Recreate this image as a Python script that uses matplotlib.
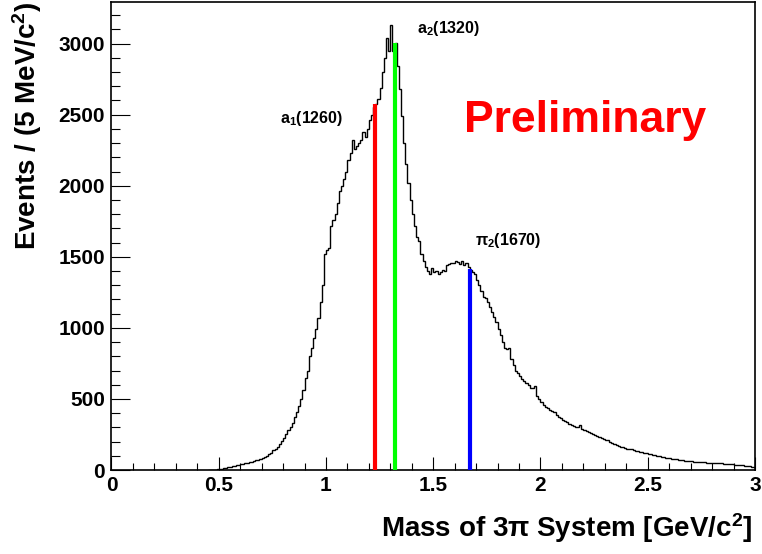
import numpy as np
import matplotlib
matplotlib.use("Agg")
import matplotlib.pyplot as plt
from matplotlib.ticker import MultipleLocator

plt.rcParams['font.family'] = ['Liberation Sans', 'DejaVu Sans']
plt.rcParams['font.weight'] = 'bold'
plt.rcParams['mathtext.fontset'] = 'custom'
plt.rcParams['mathtext.rm'] = 'Liberation Sans:bold'
plt.rcParams['mathtext.it'] = 'Liberation Sans:bold'
plt.rcParams['mathtext.bf'] = 'Liberation Sans:bold'

# histogram: 10 MeV bins starting at 0.45 GeV
bin_start = 0.45
bin_width = 0.01
counts = [
    0, 1, 2, 3, 5,
    7, 9, 12, 15, 18, 22, 26, 30, 34, 38,
    42, 45, 48, 51, 55, 58, 62, 67, 72, 78,
    85, 92, 100, 110, 122, 138, 150, 165, 185, 205,
    228, 250, 280, 300, 330, 370, 410, 450, 500, 560,
    650, 700, 800, 860, 930, 990, 1070, 1180, 1300, 1520,
    1545, 1560, 1720, 1760, 1800, 1880, 1960, 2000, 2050, 2100,
    2180, 2230, 2320, 2260, 2280, 2300, 2320, 2380, 2340, 2400,
    2460, 2500, 2555, 2575, 2610, 2690, 2800, 2900, 3040, 2950,
    3130, 2950, 3005, 2840, 2680, 2490, 2300, 2150, 2020, 1900,
    1800, 1720, 1640, 1610, 1520, 1470, 1430, 1400, 1380, 1420,
    1390, 1400, 1380, 1390, 1410, 1400, 1440, 1450, 1455, 1460,
    1470, 1465, 1450, 1470, 1440, 1455, 1430, 1410, 1390, 1380,
    1340, 1300, 1260, 1220, 1210, 1180, 1150, 1110, 1080, 1040,
    990, 950, 900, 860, 850, 860, 780, 740, 700, 680,
    660, 640, 625, 610, 595, 580, 575, 590, 520, 500,
    480, 460, 445, 435, 425, 415, 410, 390, 375, 365,
    352, 345, 335, 325, 318, 312, 305, 300, 320, 290,
    280, 272, 265, 258, 252, 246, 240, 232, 225, 218,
    212, 208, 200, 192, 185, 178, 172, 165, 160, 155,
    150, 148, 145, 140, 135, 132, 130, 126, 122, 118,
    115, 112, 108, 105, 100, 96, 94, 90, 87, 84,
    82, 80, 77, 75, 72, 70, 68, 66, 64, 63,
    61, 59, 58, 57, 59, 56, 54, 52, 51, 50,
    49, 48, 47, 46, 47, 44, 42, 41, 40, 39,
    38, 36, 35, 34, 32, 30, 28, 26, 24, 23,
]

# resonance markers
res_mass = [1.23, 1.32, 1.67]
res_top = [2575, 3005, 1412]
res_color = ['#ff0000', '#00ff00', '#0000ff']
res_label = ['a$_1$(1260)', 'a$_2$(1320)', '$\\pi_2$(1670)']
res_label_x = [0.787, 1.425, 1.695]
res_label_y = [2476, 3109, 1618]

xticks = [0, 0.5, 1, 1.5, 2, 2.5, 3]
xticklabels = ['0', '0.5', '1', '1.5', '2', '2.5', '3']
yticks = [0, 500, 1000, 1500, 2000, 2500, 3000]
yticklabels = ['0', '500', '1000', '1500', '2000', '2500', '3000']

fig = plt.figure(figsize=(7.62, 5.54), dpi=100)
ax = fig.add_axes([0.1463, 0.1516, 0.8445, 0.8448])

edges = bin_start + bin_width * np.arange(len(counts) + 1)
ax.stairs(counts, edges, baseline=None, color='black', linewidth=1.0, zorder=2)
ax.vlines(res_mass, 0, res_top, colors=res_color, linewidth=3, zorder=3)

for lab, lx, ly in zip(res_label, res_label_x, res_label_y):
    ax.text(lx, ly, lab, fontsize=11.5, fontweight='bold', ha='left', va='center')

ax.text(1.643, 2380, 'Preliminary', color='#ff0000', fontsize=32, fontweight='bold',
        ha='left', va='baseline')

ax.set_xlim(0, 3)
ax.set_ylim(0, 3293)
ax.set_xticks(xticks)
ax.set_xticklabels(xticklabels)
ax.set_yticks(yticks)
ax.set_yticklabels(yticklabels)
ax.xaxis.set_minor_locator(MultipleLocator(0.1))
ax.yaxis.set_minor_locator(MultipleLocator(100))
ax.tick_params(axis='x', which='major', direction='in', length=9.4, width=0.8,
               labelsize=15, pad=4.5, top=False)
ax.tick_params(axis='x', which='minor', direction='in', length=5, width=0.8, top=False)
ax.tick_params(axis='y', which='major', direction='in', length=13.7, width=0.8,
               labelsize=15, pad=4.5, right=False)
ax.tick_params(axis='y', which='minor', direction='in', length=6.8, width=0.8, right=False)
for lab in ax.get_xticklabels() + ax.get_yticklabels():
    lab.set_fontweight('bold')
for sp in ax.spines.values():
    sp.set_linewidth(1.2)

fig.text(27 / 762, 1 - 2 / 554, 'Events / (5 MeV/c$^2$)', rotation=90,
         fontsize=20, fontweight='bold', ha='center', va='top')
fig.text(752 / 762, 1 - 528 / 554, 'Mass of 3\u03c0 System [GeV/c$^2$]',
         fontsize=20, fontweight='bold', ha='right', va='center')

fig.savefig('out.png', dpi=100)
